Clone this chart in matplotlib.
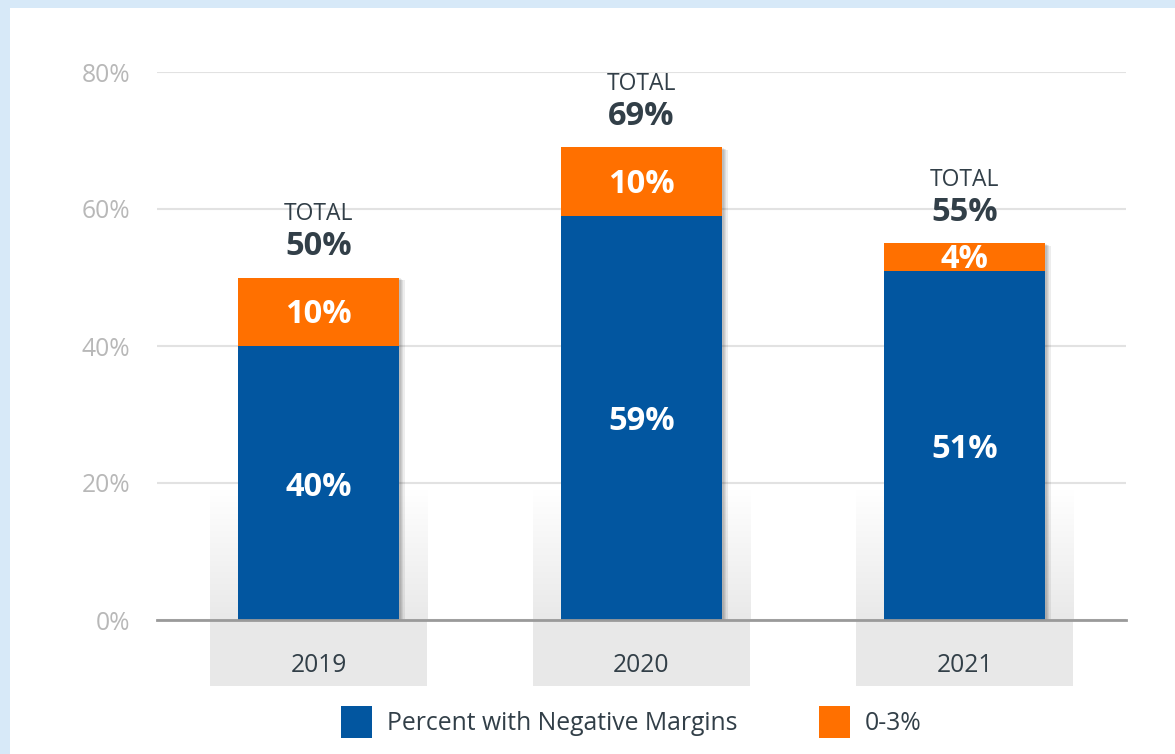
import matplotlib
matplotlib.use("Agg")
import matplotlib.pyplot as plt
import matplotlib.patheffects as pe
from matplotlib.colors import LinearSegmentedColormap
from matplotlib.patches import Rectangle
import numpy as np

plt.rcParams['font.family'] = ['Open Sans', 'DejaVu Sans']

# 데이터
years = ['2019', '2020', '2021']
negative_margins = [40, 59, 51]
margin_0_3 = [10, 10, 4]
totals = [50, 69, 55]
series_names = ['Percent with Negative Margins', '0-3%']

blue = '#0256a0'
orange = '#ff7000'
dark = '#323f48'

W, H = 1175, 754
fig = plt.figure(figsize=(W / 100, H / 100), dpi=100)
fig.patch.set_facecolor('#d7e9f8')
fig.patches.append(Rectangle((10 / W, 0), 1, (H - 8) / H, transform=fig.transFigure,
                             facecolor='white', edgecolor='none', zorder=-1))

ax = fig.add_axes([157 / W, (H - 620) / H, (1126 - 157) / W, (620 - 72) / H])
ax.set_zorder(1)
ax.set_facecolor('none')
x = np.arange(len(years))

# 회색 배경 띠
band_w = 0.672
grad = LinearSegmentedColormap.from_list('g', ['#e9e9e9', '#ffffff'])
for xi in x:
    ax.add_patch(Rectangle((xi - band_w / 2, -9.6), band_w, 9.6, facecolor='#e8e8e8',
                           edgecolor='none', clip_on=False, zorder=0.2))
    ax.imshow(np.linspace(0, 1, 100).reshape(-1, 1), cmap=grad, origin='lower',
              extent=(xi - band_w / 2, xi + band_w / 2, 0, 19), aspect='auto', zorder=0.2)
ax.set_xlim(-0.5, 2.5)
ax.set_ylim(0, 80)

# 그림자
shadow = [pe.SimplePatchShadow(offset=(o, -o / 2), shadow_rgbFace='k', alpha=0.07)
          for o in (1, 2, 3, 4)] + [pe.Normal()]
ax.bar(x, totals, width=0.5, color='white', zorder=2.6, path_effects=shadow)

b1 = ax.bar(x, negative_margins, width=0.5, color=blue, zorder=3, label=series_names[0])
b2 = ax.bar(x, margin_0_3, width=0.5, bottom=negative_margins, color=orange, zorder=3,
            label=series_names[1])

for xi, n, m, t in zip(x, negative_margins, margin_0_3, totals):
    ax.annotate(f'{n}%', (xi, n / 2), xytext=(0, -4), textcoords='offset pixels',
                ha='center', va='center', color='white',
                fontsize=23.5, fontweight='bold', zorder=4)
    ax.annotate(f'{m}%', (xi, n + m / 2), xytext=(0, -3), textcoords='offset pixels',
                ha='center', va='center', color='white',
                fontsize=23.5, fontweight='bold', zorder=4)
    ax.annotate('TOTAL', (xi, t), xytext=(0, 63), textcoords='offset pixels',
                ha='center', va='center', color=dark, fontsize=16.5)
    ax.annotate(f'{t}%', (xi, t), xytext=(0, 31), textcoords='offset pixels',
                ha='center', va='center', color=dark, fontsize=23.5, fontweight='bold')

ax.set_yticks([0, 20, 40, 60, 80])
ax.set_yticklabels([f'{v}%' for v in [0, 20, 40, 60, 80]])
ax.set_xticks(x)
ax.set_xticklabels(years)
ax.tick_params(axis='y', length=0, pad=19, labelsize=17.7, labelcolor='#b8b8b8')
ax.tick_params(axis='x', length=0, pad=24, labelsize=17.7, labelcolor=dark)
ax.yaxis.grid(True, color='#e2e2e2', linewidth=1.5)
ax.set_axisbelow(True)
for s in ['top', 'right', 'left']:
    ax.spines[s].set_visible(False)
ax.spines['bottom'].set_color('#9a9a9a')
ax.spines['bottom'].set_linewidth(2)
ax.spines['bottom'].set_zorder(5)

fig.legend(handles=[b1, b2], labels=series_names, loc='center',
           bbox_to_anchor=(0.537, 0.0424), ncol=2, frameon=False, fontsize=17.8,
           handlelength=1.25, handleheight=1.65, handletextpad=0.6, columnspacing=3.3,
           labelcolor=dark)

fig.savefig('out.png', dpi=100, facecolor=fig.get_facecolor())
